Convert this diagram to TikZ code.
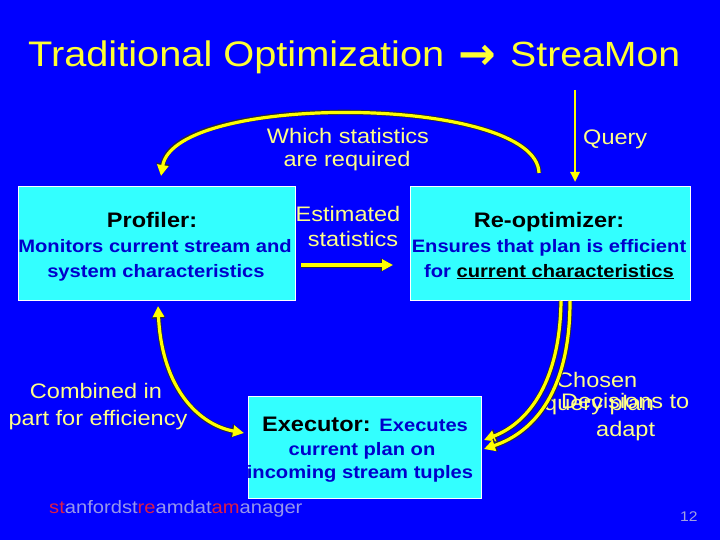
\documentclass[tikz,border=0pt]{standalone}
\usepackage{fontspec}
\setmainfont{Liberation Sans}[FakeStretch=1.12]
\newfontfamily\symfont{DejaVu Sans}
\usetikzlibrary{arrows.meta}
\definecolor{bg}{RGB}{0,0,255}
\definecolor{ttl}{RGB}{255,255,51}
\definecolor{lbl}{RGB}{255,255,135}
\definecolor{boxc}{RGB}{51,255,255}
\definecolor{btext}{RGB}{0,0,204}
\definecolor{arr}{RGB}{255,255,0}
\definecolor{shade}{RGB}{40,40,60}
\definecolor{sred}{RGB}{220,30,70}
\definecolor{slav}{RGB}{150,150,235}
\definecolor{pnum}{RGB}{160,160,225}
\newcommand{\fsz}[1]{\fontsize{#1}{#1}\selectfont}
\begin{document}
\begin{tikzpicture}[x=1pt,y=-1pt,
  boxnode/.style={draw=white, line width=0.8pt, fill=boxc, anchor=north west, inner sep=0pt},
  ttltext/.style={anchor=base west, text=ttl, inner sep=0pt, font=\fsz{35.5}},
  lbltext/.style={anchor=base, text=lbl, inner sep=0pt, font=\fsz{21}},
  lblleft/.style={anchor=base west, text=lbl, inner sep=0pt, font=\fsz{21}},
  headtext/.style={anchor=base, text=black, inner sep=0pt, font=\fsz{21}\bfseries},
  bodytext/.style={anchor=base, text=btext, inner sep=0pt, font=\fsz{18}\bfseries},
  yarrow/.style={draw=arr, line width=3.2pt, -{Triangle[length=11pt,width=11pt]},
     preaction={draw=shade, line width=5pt, -{Triangle[length=12.5pt,width=13pt]}}},
  ydouble/.style={draw=arr, line width=3.2pt, {Triangle[length=11pt,width=11pt]}-{Triangle[length=11pt,width=11pt]},
     preaction={draw=shade, line width=5pt, {Triangle[length=12.5pt,width=13pt]}-{Triangle[length=12.5pt,width=13pt]}}},
  qarrow/.style={draw=arr, line width=2.4pt, -{Triangle[length=10pt,width=9pt]}}
]
\fill[bg] (0,0) rectangle (720,540);
\useasboundingbox (0,0) rectangle (720,540);

% title
\node[ttltext] (t1) at (28,67) {Traditional Optimization};
\node[ttltext, font=\symfont\bfseries\fsz{45}] (t2) at (458,70) {→};
\node[ttltext, font=\fsz{35}] (t3) at (510,67) {StreaMon};

% boxes
\node[boxnode, minimum width=277pt, minimum height=114pt] (prof) at (18,186) {};
\node[boxnode, minimum width=280pt, minimum height=114pt] (reopt) at (410,186) {};
\node[boxnode, minimum width=233pt, minimum height=102pt] (exec) at (248,396) {};

% profiler text
\node[headtext] (p1) at (152,227) {Profiler:};
\node[bodytext] (p2) at (155,252) {Monitors current stream and};
\node[bodytext] (p3) at (156,277) {system characteristics};

% reoptimizer text
\node[headtext] (r1) at (549,227) {Re-optimizer:};
\node[bodytext] (r2) at (549,252) {Ensures that plan is efficient};
\node[bodytext] (r3) at (549,277) {for \textcolor{black}{\underline{current characteristics}}};

% executor text
\node[anchor=base west, inner sep=0pt] (x1) at (262,431) {\fsz{21}\bfseries\textcolor{black}{Executor:} \fsz{18}\textcolor{btext}{Executes}};
\node[bodytext] (x2) at (362,455) {current plan on};
\node[bodytext] (x3) at (360,478) {incoming stream tuples};

% labels
\node[lbltext] (w1) at (348,144) {Which statistics};
\node[lbltext] (w2) at (347,167) {are required};
\node[lbltext] (e1) at (348,222) {Estimated};
\node[lbltext] (e2) at (353,246) {statistics};
\node[lblleft] (q1) at (583,145) {Query};
\node[lbltext] (c1) at (96,398) {Combined in};
\node[lbltext] (c2) at (98,425) {part for efficiency};
\node[lblleft] (d1) at (556,387) {Chosen};
\node[lblleft] (d2) at (561,408) {Decisions to};
\node[lblleft] (d3) at (544,410) {query plan};
\node[lblleft] (d4) at (596,436) {adapt};

% footer
\node[anchor=base west, inner sep=0pt, font=\fsz{18}] (sf) at (49,513)
  {\textcolor{sred}{st}\textcolor{slav}{anfordst}\textcolor{sred}{re}\textcolor{slav}{amdat}\textcolor{sred}{am}\textcolor{slav}{anager}};
\node[anchor=base west, inner sep=0pt, font=\fsz{14}, text=pnum] (pg) at (680,521) {12};

% connector end points
\coordinate (a1s) at (539,173);
\coordinate (a1e) at (161,176);
\coordinate (qs) at (575,90);
\coordinate (qe) at (575,182);
\coordinate (es) at (301,265);
\coordinate (ee) at (393,265);
\coordinate (ls) at (158,306);
\coordinate (le) at (244,433);
\coordinate (rs1) at (561,301);
\coordinate (re1) at (484,440);
\coordinate (rs2) at (570,301);
\coordinate (re2) at (484,449);

% connectors
\draw[yarrow] (a1s) .. controls (537,95) and (175,92) .. (a1e);
\draw[qarrow] (qs) -- (qe);
\draw[yarrow] (es) -- (ee);
\draw[ydouble] (ls) .. controls (162,390) and (200,425) .. (le);
\draw[yarrow] (rs1) .. controls (560,380) and (530,422) .. (re1);
\draw[yarrow] (rs2) .. controls (570,390) and (535,432) .. (re2);
\end{tikzpicture}
\end{document}
